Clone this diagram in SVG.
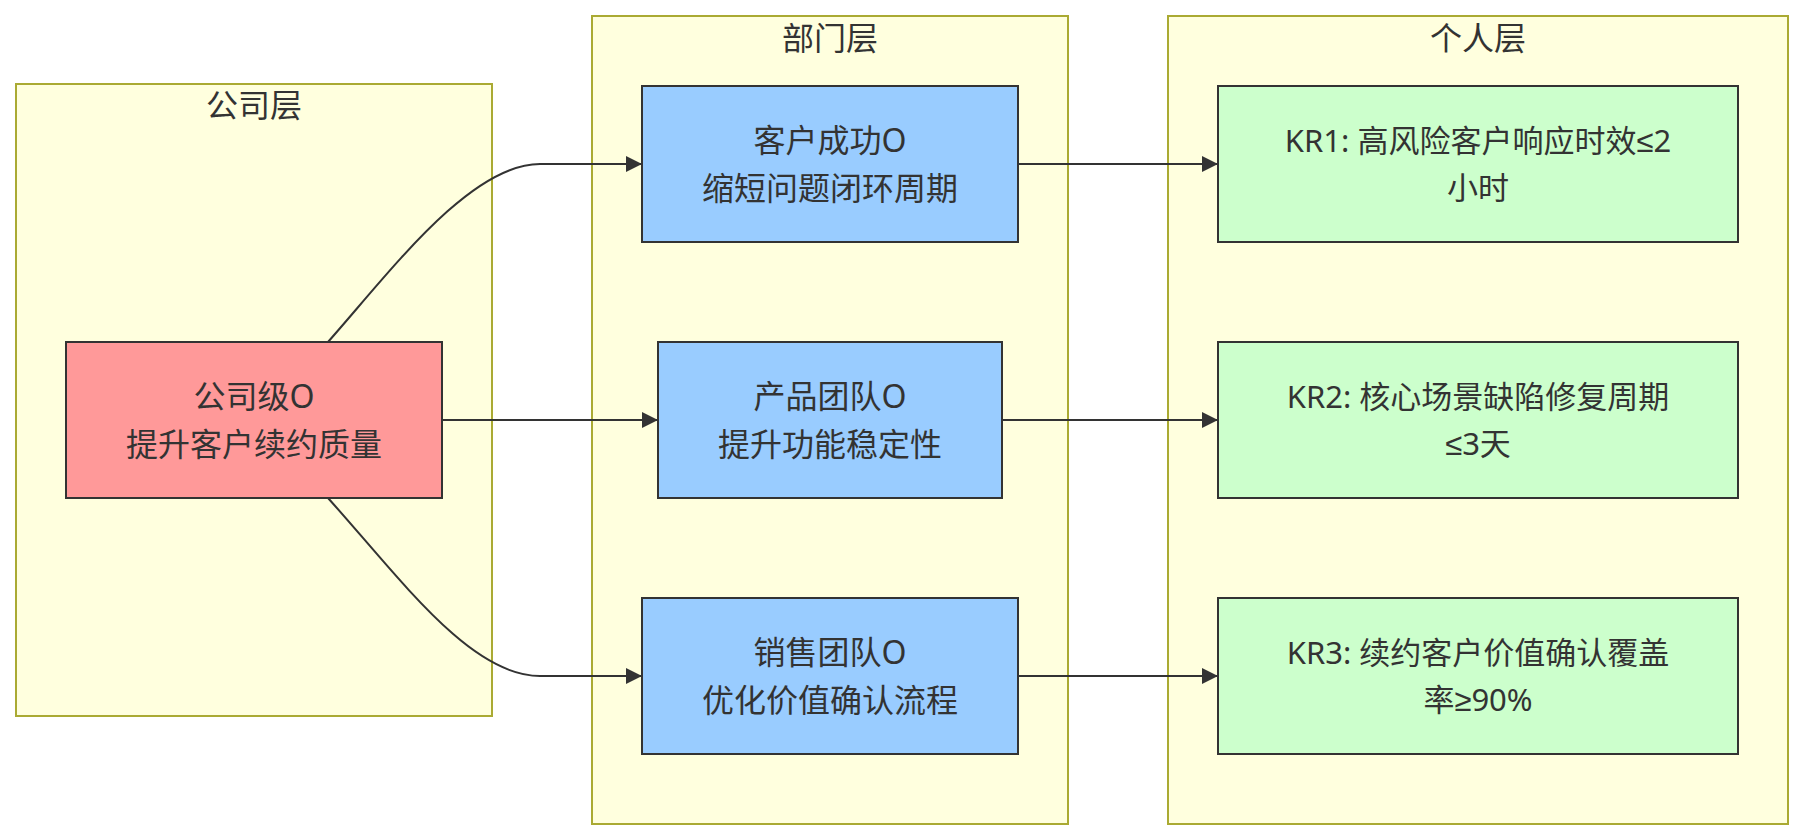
<svg xmlns="http://www.w3.org/2000/svg" width="1804" height="840" viewBox="0 0 1804 840">
<style>
.cluster{fill:#ffffde;stroke:#aaaa33;stroke-width:2}
.node{stroke:#333333;stroke-width:2}
.t{font-family:"Noto Sans","Noto Sans CJK SC",sans-serif;fill:#333333;text-anchor:middle}
.big{font-size:32px}
.kr{font-size:31px}
.sym{font-family:"Liberation Sans","DejaVu Sans",sans-serif}
.edge{fill:none;stroke:#333333;stroke-width:2}
</style>
<defs>
<marker id="arrow" viewBox="0 0 16 16" refX="16" refY="8" markerWidth="16" markerHeight="16" markerUnits="userSpaceOnUse" orient="auto">
<path d="M0,0 L16,8 L0,16 Z" fill="#333333"/>
</marker>
</defs>
<g id="cluster-company">
<rect class="cluster" x="16" y="84" width="476" height="632"/>
<text class="t big" x="254" y="117">公司层</text>
</g>
<g id="cluster-dept">
<rect class="cluster" x="592" y="16" width="476" height="808"/>
<text class="t big" x="830" y="50">部门层</text>
</g>
<g id="cluster-person">
<rect class="cluster" x="1168" y="16" width="620" height="808"/>
<text class="t big" x="1478" y="50">个人层</text>
</g>
<g id="connectors">
<path class="edge" d="M328,342 C390,272 470,164 540,164 L642,164" marker-end="url(#arrow)"/>
<path class="edge" d="M442,420 L658,420" marker-end="url(#arrow)"/>
<path class="edge" d="M328,498 C400,578 470,676 540,676 L642,676" marker-end="url(#arrow)"/>
<path class="edge" d="M1018,164 L1218,164" marker-end="url(#arrow)"/>
<path class="edge" d="M1002,420 L1218,420" marker-end="url(#arrow)"/>
<path class="edge" d="M1018,676 L1218,676" marker-end="url(#arrow)"/>
</g>
<g id="node-company">
<rect class="node" x="66" y="342" width="376" height="156" fill="#ff9999"/>
<text class="t big" x="254" y="408">公司级O</text>
<text class="t big" x="254" y="456">提升客户续约质量</text>
</g>
<g id="node-cs">
<rect class="node" x="642" y="86" width="376" height="156" fill="#99ccff"/>
<text class="t big" x="830" y="152">客户成功O</text>
<text class="t big" x="830" y="200">缩短问题闭环周期</text>
</g>
<g id="node-product">
<rect class="node" x="658" y="342" width="344" height="156" fill="#99ccff"/>
<text class="t big" x="830" y="408">产品团队O</text>
<text class="t big" x="830" y="456">提升功能稳定性</text>
</g>
<g id="node-sales">
<rect class="node" x="642" y="598" width="376" height="156" fill="#99ccff"/>
<text class="t big" x="830" y="664">销售团队O</text>
<text class="t big" x="830" y="712">优化价值确认流程</text>
</g>
<g id="node-kr1">
<rect class="node" x="1218" y="86" width="520" height="156" fill="#ccffcc"/>
<text class="t kr" x="1478" y="152">KR1: 高风险客户响应时效<tspan class="sym">≤</tspan>2</text>
<text class="t kr" x="1478" y="199">小时</text>
</g>
<g id="node-kr2">
<rect class="node" x="1218" y="342" width="520" height="156" fill="#ccffcc"/>
<text class="t kr" x="1478" y="408">KR2: 核心场景缺陷修复周期</text>
<text class="t kr" x="1478" y="455"><tspan class="sym">≤</tspan>3天</text>
</g>
<g id="node-kr3">
<rect class="node" x="1218" y="598" width="520" height="156" fill="#ccffcc"/>
<text class="t kr" x="1478" y="664">KR3: 续约客户价值确认覆盖</text>
<text class="t kr" x="1478" y="711">率<tspan class="sym">≥</tspan>90%</text>
</g>
</svg>
